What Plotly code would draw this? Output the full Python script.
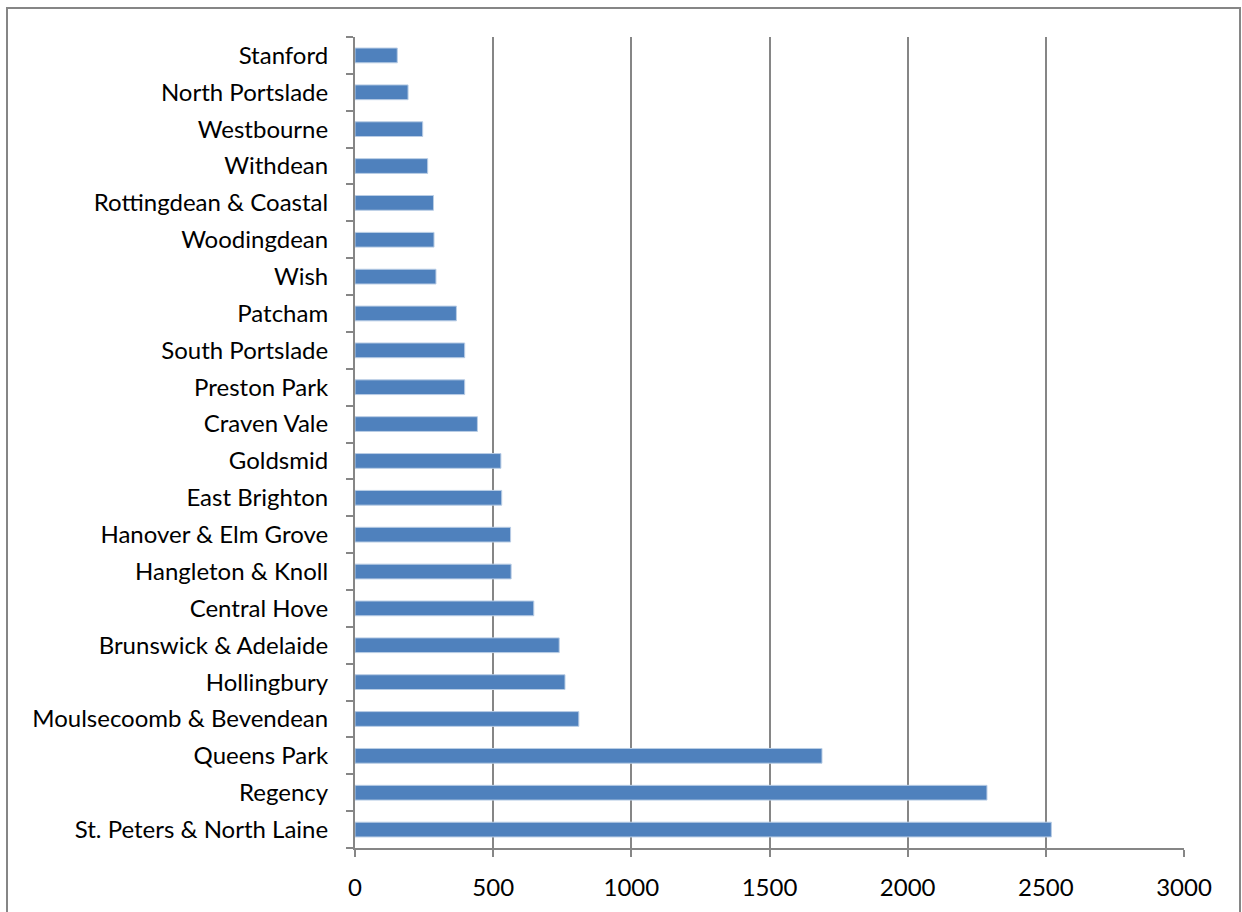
import plotly.graph_objects as go

wards = ["St. Peters & North Laine", "Regency", "Queens Park", "Moulsecoomb & Bevendean",
         "Hollingbury", "Brunswick & Adelaide", "Central Hove", "Hangleton & Knoll",
         "Hanover & Elm Grove", "East Brighton", "Goldsmid", "Craven Vale", "Preston Park",
         "South Portslade", "Patcham", "Wish", "Woodingdean", "Rottingdean & Coastal",
         "Withdean", "Westbourne", "North Portslade", "Stanford"]
values = [2520, 2287, 1690, 810, 760, 739, 647, 565, 563, 531, 528, 443, 397, 397,
          367, 293, 286, 284, 263, 245, 192, 153]
x_ticks = [0, 500, 1000, 1500, 2000, 2500, 3000]

fig = go.Figure(go.Bar(
    x=values, y=wards, orientation="h",
    marker=dict(color="#4F81BD", line=dict(color="#B9CDE5", width=1)),
    width=0.4,
))

grey = "#868686"
fig.update_layout(
    width=1242, height=912,
    margin=dict(l=355, r=58, t=37, b=64),
    paper_bgcolor="white", plot_bgcolor="white",
    font=dict(family="Lato, Liberation Sans, sans-serif", size=24, color="black"),
    showlegend=False,
    bargap=0.6,
    xaxis=dict(range=[0, 3000], tickvals=x_ticks, showgrid=True, gridcolor=grey, gridwidth=2,
               showline=True, linecolor=grey, linewidth=2, ticks="outside", ticklen=7,
               tickcolor=grey, tickwidth=2, zeroline=False, fixedrange=True,
               ticklabelstandoff=10),
    yaxis=dict(categoryorder="array", categoryarray=wards, showline=True, linecolor=grey,
               linewidth=2, ticks="outside", ticklen=7, tickcolor=grey, tickwidth=2,
               tickson="boundaries", showgrid=False, fixedrange=True,
               ticklabelstandoff=20, range=[-0.5, len(wards) - 0.5]),
    shapes=[dict(type="rect", xref="paper", yref="paper",
                 x0=(7 - 355) / 829, x1=(1240 - 355) / 829,
                 y0=(848 - 930) / 811, y1=(848 - 8) / 811,
                 line=dict(color=grey, width=2), fillcolor="rgba(0,0,0,0)", layer="below")],
)

fig.write_html("out.html")
